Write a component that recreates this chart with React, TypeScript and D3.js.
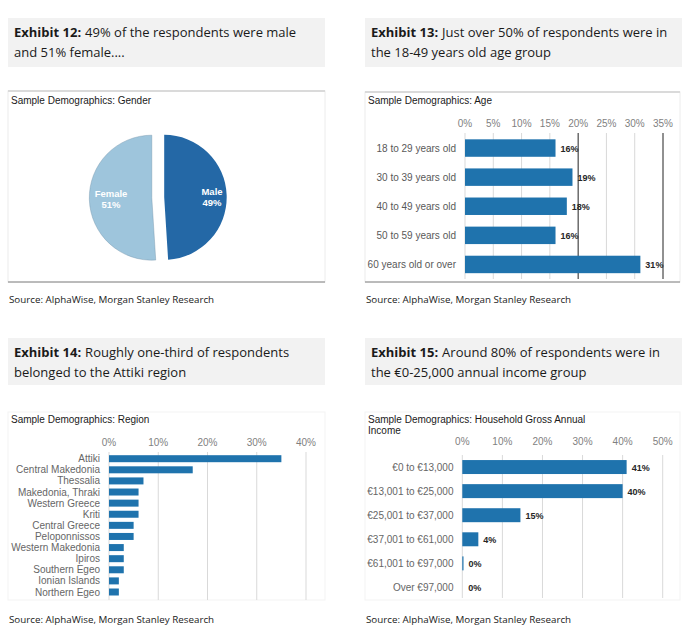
import React from "react";
import * as d3 from "d3";

const genderLabels = ["Male", "Female"];
const genderValues = [49, 51];

const ageCategories = ["18 to 29 years old", "30 to 39 years old", "40 to 49 years old", "50 to 59 years old", "60 years old or over"];
const ageValues = [16, 19, 18, 16, 31];
const ageTicks = [0, 5, 10, 15, 20, 25, 30, 35];

const regionCategories = ["Attiki", "Central Makedonia", "Thessalia", "Makedonia, Thraki", "Western Greece", "Kriti", "Central Greece", "Peloponnissos", "Western Makedonia", "Ipiros", "Southern Egeo", "Ionian Islands", "Northern Egeo"];
const regionValues = [35, 17, 7, 6, 6, 6, 5, 5, 3, 3, 3, 2, 2];
const regionTicks = [0, 10, 20, 30, 40];

const incomeCategories = ["€0 to €13,000", "€13,001 to €25,000", "€25,001 to €37,000", "€37,001 to €61,000", "€61,001 to €97,000", "Over €97,000"];
const incomeValues = [41, 40, 14.5, 4, 0.3, 0];
const incomeLabels = ["41%", "40%", "15%", "4%", "0%", "0%"];
const incomeTicks = [0, 10, 20, 30, 40, 50];

const titles = [
  ["Exhibit 12:", "49% of the respondents were male", "and 51% female...."],
  ["Exhibit 13:", "Just over 50% of respondents were in", "the 18-49 years old age group"],
  ["Exhibit 14:", "Roughly one-third of respondents", "belonged to the Attiki region"],
  ["Exhibit 15:", "Around 80% of respondents were in", "the €0-25,000 annual income group"],
];
const sourceText = "Source: AlphaWise, Morgan Stanley Research";

const TITLE_FONT = "'Open Sans', sans-serif";
const CHART_FONT = "'Liberation Sans', Arial, sans-serif";
const BAR = "#1f73ad";
const GRID = "#d9d9d9";

function TitleBox({ x, y, w, h, t }: { x: number; y: number; w: number; h: number; t: string[] }) {
  return (
    <g>
      <rect x={x} y={y} width={w} height={h} fill="#f2f2f2" />
      <text x={x + 6} y={y + 19} fontFamily={TITLE_FONT} fontSize={13} fill="#1a1a1a" xmlSpace="preserve">
        <tspan fontWeight="bold">{t[0]}</tspan>
        <tspan dx={4}>{t[1]}</tspan>
      </text>
      <text x={x + 6} y={y + 39} fontFamily={TITLE_FONT} fontSize={13} fill="#1a1a1a">
        {t[2]}
      </text>
    </g>
  );
}

function Source({ x, y }: { x: number; y: number }) {
  return (
    <text x={x} y={y} fontFamily={TITLE_FONT} fontSize={9.8} fill="#1a1a1a">
      {sourceText}
    </text>
  );
}

function PieChart() {
  const cx = 158, cy = 197.5, r = 62.5, explode = 6.2;
  const pie = d3.pie<number>().sort(null).startAngle(0).endAngle(2 * Math.PI);
  const arcs = pie(genderValues);
  const arcGen = d3.arc<d3.PieArcDatum<number>>().innerRadius(0).outerRadius(r);
  const colors = ["#2468a6", "#9ec5dc"];
  const labelPos = [
    [212, 195],
    [111, 197],
  ];
  return (
    <g>
      <rect x={8} y={91} width={317} height={191} fill="#fff" stroke="#ececec" strokeWidth={1} />
      <line x1={8} x2={325} y1={91} y2={91} stroke="#dadada" strokeWidth={2} />
      <line x1={8} x2={325} y1={282} y2={282} stroke="#808080" strokeWidth={1.2} />
      <text x={11} y={104} fontFamily={CHART_FONT} fontSize={10} fill="#1a1a1a">
        Sample Demographics: Gender
      </text>
      {arcs.map((a, i) => {
        const mid = (a.startAngle + a.endAngle) / 2;
        const dx = Math.sin(mid) * explode;
        const dy = -Math.cos(mid) * explode;
        return (
          <g key={i} transform={`translate(${cx + dx},${cy + dy})`}>
            <path d={arcGen(a) || ""} fill={colors[i]} stroke={i === 1 ? "#6f8fa6" : "none"} strokeWidth={0.4} />
          </g>
        );
      })}
      {arcs.map((a, i) => (
        <text key={i} x={labelPos[i][0]} y={labelPos[i][1]} textAnchor="middle" fontFamily={CHART_FONT} fontSize={9.5} fontWeight="bold" fill="#fff">
          <tspan x={labelPos[i][0]} dy={0}>{genderLabels[i]}</tspan>
          <tspan x={labelPos[i][0]} dy={10.5}>{genderValues[i]}%</tspan>
        </text>
      ))}
    </g>
  );
}

function AgeChart() {
  const x = d3.scaleLinear().domain([0, 35]).range([465, 663]);
  const y = d3.scaleBand<string>().domain(ageCategories).range([133.5, 279]).paddingInner(0.4).paddingOuter(0.2);
  return (
    <g>
      <rect x={365} y={92} width={315} height={190} fill="#fff" stroke="#ececec" strokeWidth={1} />
      <line x1={365} x2={680} y1={92} y2={92} stroke="#dadada" strokeWidth={2} />
      <line x1={365} x2={680} y1={282} y2={282} stroke="#808080" strokeWidth={1.2} />
      <text x={368} y={104} fontFamily={CHART_FONT} fontSize={10} fill="#1a1a1a">
        Sample Demographics: Age
      </text>
      {ageTicks.map((t) => (
        <g key={t}>
          <line x1={x(t)} x2={x(t)} y1={133} y2={279} stroke={t === 20 || t === 35 ? "#222" : GRID} strokeWidth={1} />
          <text x={x(t)} y={127} textAnchor="middle" fontFamily={CHART_FONT} fontSize={10} fill="#7f7f7f">
            {t}%
          </text>
        </g>
      ))}
      {ageCategories.map((c, i) => (
        <g key={c}>
          <rect x={x(0)} y={y(c)} width={x(ageValues[i]) - x(0)} height={y.bandwidth()} fill={BAR} />
          <text x={456} y={(y(c) || 0) + y.bandwidth() / 2 + 3.5} textAnchor="end" fontFamily={CHART_FONT} fontSize={10} fill="#595959">
            {c}
          </text>
          <text x={x(ageValues[i]) + 5} y={(y(c) || 0) + y.bandwidth() / 2 + 3.5} fontFamily={CHART_FONT} fontSize={9} fontWeight="bold" fill="#262626">
            {ageValues[i]}%
          </text>
        </g>
      ))}
    </g>
  );
}

function RegionChart() {
  const x = d3.scaleLinear().domain([0, 40]).range([109, 306]);
  const y = d3.scaleBand<string>().domain(regionCategories).range([453.2, 597.5]).paddingInner(0.37).paddingOuter(0.18);
  return (
    <g>
      <rect x={8} y={412} width={317} height={188} fill="#fff" stroke="#f3f3f3" strokeWidth={1} />
      <text x={11} y={423} fontFamily={CHART_FONT} fontSize={10} fill="#1a1a1a">
        Sample Demographics: Region
      </text>
      {regionTicks.map((t) => (
        <g key={t}>
          <line x1={x(t)} x2={x(t)} y1={452} y2={600} stroke={GRID} strokeWidth={1} />
          <text x={x(t)} y={446} textAnchor="middle" fontFamily={CHART_FONT} fontSize={10} fill="#7f7f7f">
            {t}%
          </text>
        </g>
      ))}
      {regionCategories.map((c, i) => (
        <g key={c}>
          <rect x={x(0)} y={y(c)} width={x(regionValues[i]) - x(0)} height={y.bandwidth()} fill={BAR} />
          <text x={100} y={(y(c) || 0) + y.bandwidth() / 2 + 3.5} textAnchor="end" fontFamily={CHART_FONT} fontSize={10} fill="#666">
            {c}
          </text>
        </g>
      ))}
    </g>
  );
}

function IncomeChart() {
  const x = d3.scaleLinear().domain([0, 50]).range([462.3, 662.7]);
  const y = d3.scaleBand<string>().domain(incomeCategories).range([455, 599.5]).paddingInner(0.42).paddingOuter(0.21);
  return (
    <g>
      <rect x={365} y={412} width={315} height={188} fill="#fff" stroke="#f3f3f3" strokeWidth={1} />
      <text x={368} y={423} fontFamily={CHART_FONT} fontSize={10} fill="#1a1a1a">
        Sample Demographics: Household Gross Annual
      </text>
      <text x={368} y={434} fontFamily={CHART_FONT} fontSize={10} fill="#1a1a1a">
        Income
      </text>
      {incomeTicks.map((t) => (
        <g key={t}>
          <line x1={x(t)} x2={x(t)} y1={455} y2={598} stroke={GRID} strokeWidth={1} />
          <text x={x(t)} y={445} textAnchor="middle" fontFamily={CHART_FONT} fontSize={10} fill="#7f7f7f">
            {t}%
          </text>
        </g>
      ))}
      {incomeCategories.map((c, i) => (
        <g key={c}>
          <rect x={x(0)} y={y(c)} width={x(incomeValues[i]) - x(0)} height={y.bandwidth()} fill={BAR} />
          <text x={453.5} y={(y(c) || 0) + y.bandwidth() / 2 + 3.5} textAnchor="end" fontFamily={CHART_FONT} fontSize={10} fill="#666">
            {c}
          </text>
          <text x={Math.max(x(incomeValues[i]), x(0) + 1) + 5} y={(y(c) || 0) + y.bandwidth() / 2 + 3.5} fontFamily={CHART_FONT} fontSize={9} fontWeight="bold" fill="#262626">
            {incomeLabels[i]}
          </text>
        </g>
      ))}
    </g>
  );
}

export default function App() {
  return (
    <svg width={690} height={641} style={{ position: "absolute", left: 0, top: 0, background: "#fff" }}>
      <rect x={0} y={0} width={690} height={641} fill="#fff" />
      <TitleBox x={8} y={18} w={317} h={49} t={titles[0]} />
      <TitleBox x={365} y={18} w={317} h={49} t={titles[1]} />
      <TitleBox x={8} y={338} w={317} h={47} t={titles[2]} />
      <TitleBox x={365} y={338} w={317} h={47} t={titles[3]} />
      <PieChart />
      <AgeChart />
      <RegionChart />
      <IncomeChart />
      <Source x={9} y={303} />
      <Source x={366} y={303} />
      <Source x={9} y={623} />
      <Source x={366} y={623} />
    </svg>
  );
}
